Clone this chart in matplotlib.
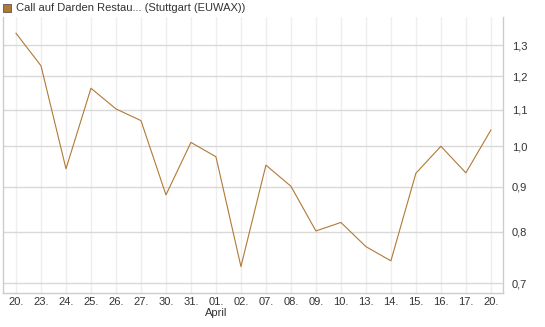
import matplotlib
matplotlib.use("Agg")
from matplotlib import pyplot as plt
from matplotlib.ticker import FixedLocator, NullLocator

days = ['20.', '23.', '24.', '25.', '26.', '27.', '30.', '31.', '01.', '02.',
        '07.', '08.', '09.', '10.', '13.', '14.', '15.', '16.', '17.', '20.']
prices = [1.342, 1.233, 0.943, 1.163, 1.102, 1.069, 0.881, 1.010, 0.973, 0.731,
          0.952, 0.901, 0.802, 0.820, 0.770, 0.742, 0.932, 1.000, 0.933, 1.043]
y_ticks = [0.7, 0.8, 0.9, 1.0, 1.1, 1.2, 1.3]
y_labels = ['0,7', '0,8', '0,9', '1,0', '1,1', '1,2', '1,3']
month_label = 'April'
month_at = 8
title = 'Call auf Darden Restau... (Stuttgart (EUWAX))'

line_color = '#b07a35'
text_color = '#333333'

plt.rcParams['font.family'] = ['Liberation Sans', 'DejaVu Sans']

fig = plt.figure(figsize=(5.45, 3.27), dpi=100)
ax = fig.add_axes([0.0046, 0.105, 0.919, 0.843])

x = list(range(len(prices)))
ax.plot(x, prices, color=line_color, linewidth=0.8)

ax.set_yscale('log')
ax.set_ylim(0.683, 1.40)
ax.set_xlim(-0.54, 19.5)

ax.yaxis.set_major_locator(FixedLocator(y_ticks))
ax.yaxis.set_minor_locator(NullLocator())
ax.set_yticklabels(y_labels)
ax.yaxis.tick_right()
ax.set_xticks(x)
ax.set_xticklabels(days)

ax.tick_params(axis='both', length=0, labelsize=8, colors=text_color)
ax.tick_params(axis='y', pad=6)
ax.tick_params(axis='x', pad=3)

ax.grid(axis='y', color='#d9d9d9', linewidth=1.0)
ax.grid(axis='x', color='#eeeeee', linewidth=1.0)
ax.set_axisbelow(True)

for side in ['left', 'right', 'bottom']:
    ax.spines[side].set_color('#cccccc')
    ax.spines[side].set_linewidth(1.0)
ax.spines['top'].set_visible(False)

ax.text(month_at, -0.056, month_label, transform=ax.get_xaxis_transform(),
        ha='center', va='top', fontsize=8, color=text_color)

# legend-like header
fig.patches.append(plt.Rectangle((3 / 545, 1 - 12 / 327), 8 / 545, 8 / 327,
                                 transform=fig.transFigure, facecolor=line_color,
                                 edgecolor='#555555', linewidth=0.6))
fig.text(16 / 545, 1 - 8 / 327, title, ha='left', va='center', fontsize=8,
         color=text_color)

fig.savefig('out.png', dpi=100)
